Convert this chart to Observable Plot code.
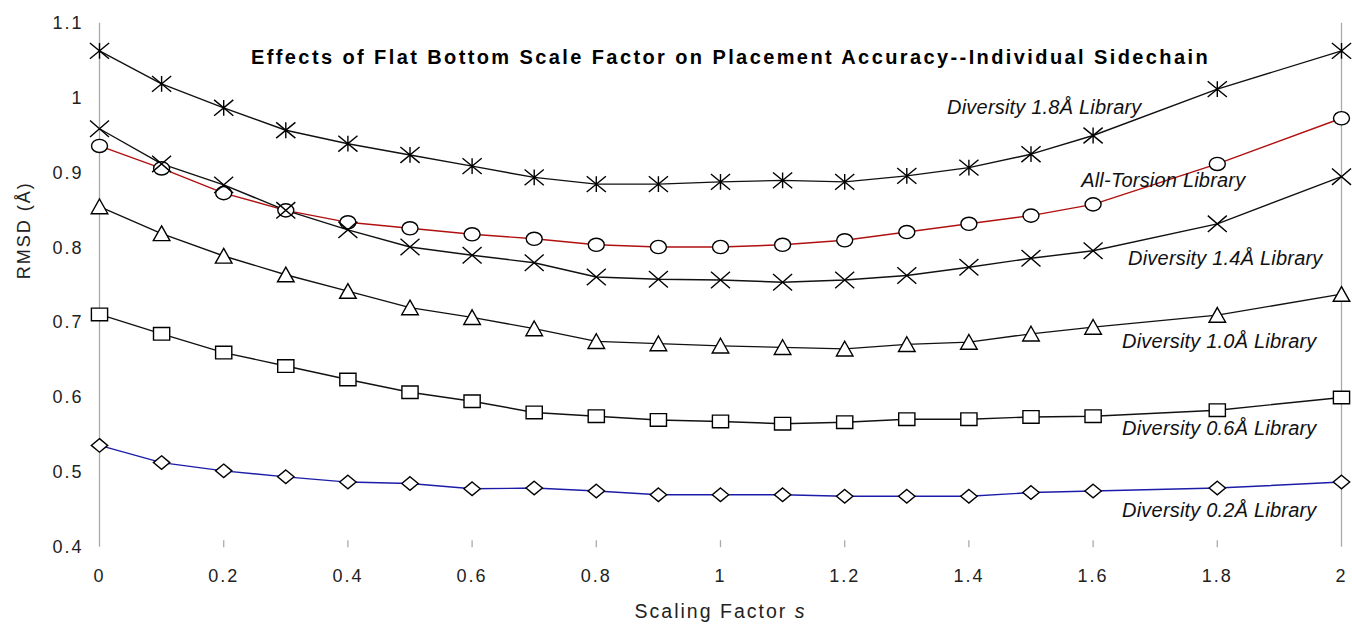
<!DOCTYPE html>
<html><head><meta charset="utf-8">
<script src="https://cdn.jsdelivr.net/npm/d3@7"></script>
<script src="https://cdn.jsdelivr.net/npm/@observablehq/plot@0.6"></script>
<style>
html,body{margin:0;padding:0;background:#fff;}
#chart svg{display:block;}
#chart svg text{letter-spacing:2px;}
#chart svg g[font-weight="bold"] text{letter-spacing:2.4px;}
#chart svg g[font-style="italic"] text{letter-spacing:0.2px;}
</style></head><body><div id="chart"></div>
<script>
// ---- data ----
const scalingFactor = [0,0.1,0.2,0.3,0.4,0.5,0.6,0.7,0.8,0.9,1.0,1.1,1.2,1.3,1.4,1.5,1.6,1.8,2.0];
const diversity18 = [1.063,1.019,0.987,0.957,0.939,0.924,0.909,0.894,0.885,0.885,0.888,0.890,0.888,0.896,0.907,0.925,0.950,1.012,1.063];
const allTorsion  = [0.936,0.906,0.873,0.850,0.834,0.826,0.818,0.812,0.804,0.801,0.801,0.804,0.810,0.821,0.832,0.843,0.858,0.912,0.973];
const diversity14 = [0.959,0.912,0.884,0.850,0.824,0.801,0.790,0.780,0.761,0.758,0.757,0.754,0.757,0.763,0.774,0.786,0.796,0.832,0.895];
const diversity10 = [0.855,0.819,0.789,0.764,0.742,0.720,0.707,0.692,0.675,0.672,0.669,0.667,0.665,0.671,0.674,0.685,0.694,0.710,0.738];
const diversity06 = [0.711,0.685,0.660,0.642,0.624,0.607,0.595,0.580,0.575,0.570,0.568,0.565,0.567,0.571,0.571,0.574,0.575,0.583,0.600];
const diversity02 = [0.536,0.513,0.502,0.494,0.487,0.485,0.478,0.479,0.475,0.470,0.470,0.470,0.468,0.468,0.468,0.473,0.475,0.479,0.487];
const seriesNames = ["Diversity 1.8Å Library","All-Torsion Library","Diversity 1.4Å Library","Diversity 1.0Å Library","Diversity 0.6Å Library","Diversity 0.2Å Library"];
const xTicks = [0,0.2,0.4,0.6,0.8,1,1.2,1.4,1.6,1.8,2];
const yTicks = [0.4,0.5,0.6,0.7,0.8,0.9,1,1.1];
const titleText = "Effects of Flat Bottom Scale Factor on Placement Accuracy--Individual Sidechain";
const xLabel = "Scaling Factor s";
const yLabel = "RMSD (Å)";

// ---- symbols ----
const sym = fn => ({draw(ctx){ fn(ctx); }});
const K = 0.5523;
const ellipse = (ctx, rx, ry) => {
  ctx.moveTo(rx,0);
  ctx.bezierCurveTo(rx, ry*K, rx*K, ry, 0, ry);
  ctx.bezierCurveTo(-rx*K, ry, -rx, ry*K, -rx, 0);
  ctx.bezierCurveTo(-rx, -ry*K, -rx*K, -ry, 0, -ry);
  ctx.bezierCurveTo(rx*K, -ry, rx, -ry*K, rx, 0);
  ctx.closePath();
};
const starSym = sym(c => {const w=9.6,h=7.9; c.moveTo(-w,-h);c.lineTo(w,h);c.moveTo(-w,h);c.lineTo(w,-h);c.moveTo(0,-h);c.lineTo(0,h);});
const circleSym = sym(c => ellipse(c, 8, 6.6));
const timesSym = sym(c => {const w=9.5,h=8.2; c.moveTo(-w,-h);c.lineTo(w,h);c.moveTo(-w,h);c.lineTo(w,-h);});
const triSym = sym(c => {c.moveTo(0,-7.6);c.lineTo(8.3,7.1);c.lineTo(-8.3,7.1);c.closePath();});
const squareSym = sym(c => {c.moveTo(-8.1,-6.3);c.lineTo(8.1,-6.3);c.lineTo(8.1,6.3);c.lineTo(-8.1,6.3);c.closePath();});
const diamondSym = sym(c => {c.moveTo(0,-6.8);c.lineTo(8.2,0);c.lineTo(0,6.8);c.lineTo(-8.2,0);c.closePath();});
const tickSym = sym(c => {c.moveTo(0,-7);c.lineTo(0,0);});

const allValues = [diversity18, allTorsion, diversity14, diversity10, diversity06, diversity02];
const symbols = [starSym, circleSym, timesSym, triSym, squareSym, diamondSym];
const lineColors = ["#111","#b01010","#111","#111","#111","#1c1ca8"];
// label offsets (pixels) relative to each series' point at s = 1.8
const labelDx = [-173,-54,8,2,2,2];
const labelDy = [19,17,35,26,18,23];

const idx18 = scalingFactor.indexOf(1.8);
const table = (vals) => scalingFactor.map((x,i) => ({x, y: vals[i]}));

const marks = [
  Plot.ruleX([0,2], {stroke:"#aaa", strokeWidth:1.3}),
  Plot.dot(xTicks.filter(v => v>0 && v<2), {x: d=>d, y: () => 0.4, symbol: tickSym, stroke:"#aaa", strokeWidth:1.3, fill:"none"}),
];
allValues.forEach((vals,k) => {
  marks.push(Plot.line(table(vals), {x:"x", y:"y", stroke: lineColors[k], strokeWidth:1.4}));
});
allValues.forEach((vals,k) => {
  marks.push(Plot.dot(table(vals), {x:"x", y:"y", symbol: symbols[k], r:5, stroke:"#000", strokeWidth:1.4, fill:"#fff"}));
});
allValues.forEach((vals,k) => {
  marks.push(Plot.text([{x: 1.8, y: vals[idx18], t: seriesNames[k]}], {x:"x", y:"y", text:"t", dx: labelDx[k], dy: labelDy[k], fontStyle:"italic", fontSize:20, fill:"#111"}));
});
marks.push(Plot.text([titleText], {text: d=>d, frameAnchor:"top", lineAnchor:"middle", dy:34, dx:10, fontWeight:"bold", fontSize:20, fill:"#000"}));
marks.push(Plot.text([xLabel], {text: d=>d, frameAnchor:"bottom", lineAnchor:"middle", dy:65, fontSize:19.5, fill:"#222"}));
marks.push(Plot.text([yLabel], {text: d=>d, frameAnchor:"left", lineAnchor:"middle", dx:-75, dy:-6, rotate:-90, fontSize:18, fill:"#222"}));

const fmt = d => String(+(+d).toFixed(1));
const chart = Plot.plot({
  width: 1352, height: 624,
  marginLeft: 99, marginRight: 11, marginTop: 22.7, marginBottom: 77.3,
  style: {fontFamily: "'Liberation Sans', Arial, sans-serif", fontSize: "18px", background: "#fff", color: "#222"},
  x: {domain: [0,2], ticks: xTicks, tickFormat: fmt, tickSize: 0, tickPadding: 22, label: null},
  y: {domain: [0.4,1.1], ticks: yTicks, tickFormat: fmt, tickSize: 0, tickPadding: 16, label: null},
  marks
});
document.getElementById("chart").appendChild(chart);

// italic "s" in the x label
d3.select(chart).selectAll("text").filter(function(){ return this.textContent === xLabel; }).each(function(){
  const t = d3.select(this);
  t.text("Scaling Factor ");
  t.append("tspan").attr("font-style","italic").text("s");
});
</script></body></html>
